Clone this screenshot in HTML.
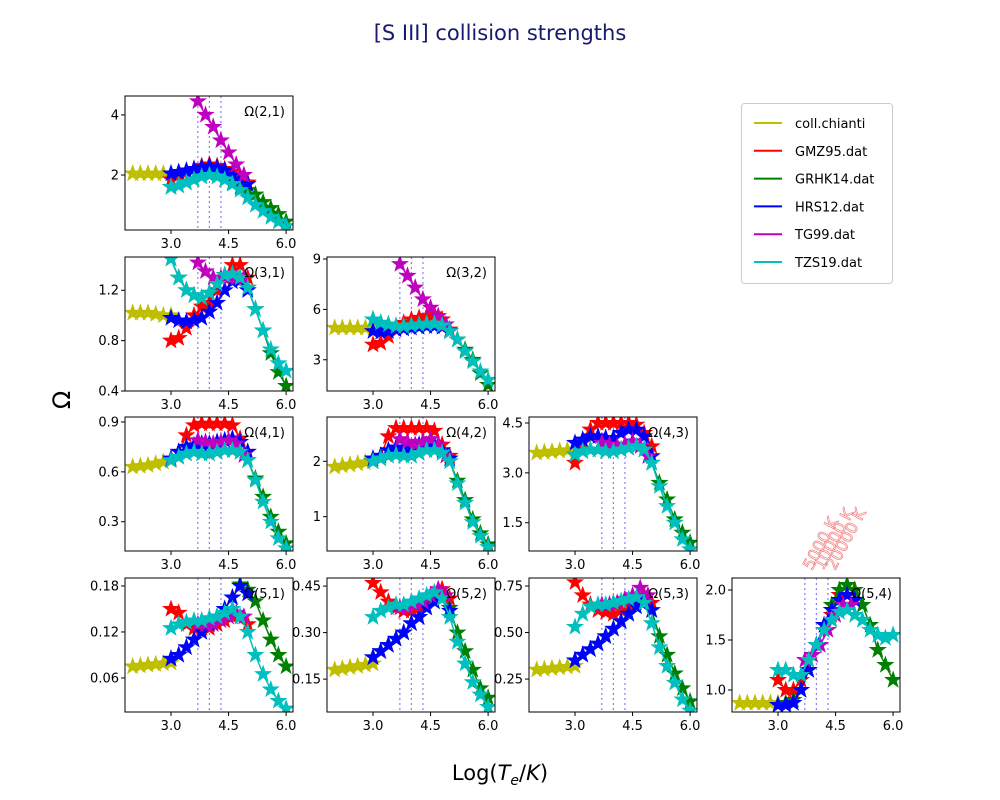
<!DOCTYPE html>
<html><head><meta charset="utf-8"><style>
body{margin:0;background:#fff;}
svg{display:block;font-family:"DejaVu Sans","Liberation Sans",sans-serif;}
</style></head><body>
<svg id="chart" width="1000" height="800" viewBox="0 0 1000 800" xmlns="http://www.w3.org/2000/svg">
<rect x="0" y="0" width="1000" height="800" fill="#fff"/>
<text x="500" y="40" text-anchor="middle" font-size="21" fill="#191970">[S III] collision strengths</text>
<text x="70" y="400" text-anchor="middle" font-size="24" transform="rotate(-90 70 400)">Ω</text>
<text x="500" y="780" text-anchor="middle" font-size="21">Log(<tspan font-style="italic">T</tspan><tspan font-style="italic" font-size="14" dy="5">e</tspan><tspan dy="-5">/</tspan><tspan font-style="italic">K</tspan>)</text>
<g id="panels"></g>
<g>
<rect x="741.5" y="103.5" width="151" height="180" rx="3" fill="#fff" stroke="#ccc"/>
<g id="legend-items"></g>
</g>
<g fill="none" stroke="#f08080" stroke-width="0.7" font-size="16">
<text transform="translate(812 571) rotate(-62)">5000 K</text>
<text transform="translate(823 571) rotate(-62)">10000 K</text>
<text transform="translate(835 571) rotate(-62)">20000 K</text>
</g>
</svg>
<script>
const xChianti=[2.0,2.2,2.4,2.6,2.8,3.0];
const xMid=[3.0,3.2,3.4,3.6,3.8,4.0,4.2,4.4,4.6,4.8,5.0];
const xLong=[3.0,3.2,3.4,3.6,3.8,4.0,4.2,4.4,4.6,4.8,5.0,5.2,5.4,5.6,5.8,6.0];
const xTG=[3.7,3.9,4.1,4.3,4.5,4.7,4.9];
const seriesNames=["coll.chianti","GMZ95.dat","GRHK14.dat","HRS12.dat","TG99.dat","TZS19.dat"];
const seriesColors=["#bfbf00","#ff0000","#008000","#0000ff","#bf00bf","#00bfbf"];
const tempLines=[3.699,4.0,4.301];

const chi_21=[2.05,2.05,2.05,2.05,2.05,2.05];
const gmz_21=[1.85,2.0,2.1,2.2,2.3,2.35,2.3,2.2,2.1,1.95,1.75];
const grh_21=[1.6,1.65,1.75,1.85,1.95,2.0,1.95,1.85,1.75,1.6,1.5,1.35,1.1,0.9,0.7,0.45];
const hrs_21=[2.05,2.1,2.15,2.2,2.25,2.3,2.25,2.15,2.0,1.85,1.7];
const tg_21=[4.45,4.0,3.6,3.15,2.75,2.35,2.0];
const tzs_21=[1.6,1.65,1.75,1.85,1.95,2.0,1.95,1.85,1.7,1.5,1.25,1.0,0.8,0.6,0.45,0.3];

const chi_31=[1.02,1.02,1.02,1.01,1.0,1.0];
const gmz_31=[0.8,0.82,0.9,1.0,1.07,1.1,1.2,1.3,1.4,1.4,1.3];
const grh_31=[1.45,1.3,1.2,1.16,1.14,1.18,1.25,1.32,1.33,1.3,1.22,1.05,0.88,0.7,0.55,0.44];
const hrs_31=[0.98,0.96,0.95,0.96,0.98,1.03,1.1,1.2,1.27,1.28,1.2];
const tg_31=[1.42,1.35,1.3,1.3,1.3,1.3,1.3];
const tzs_31=[1.45,1.3,1.2,1.16,1.14,1.18,1.25,1.32,1.33,1.3,1.22,1.05,0.88,0.73,0.62,0.56];

const chi_32=[4.9,4.9,4.9,4.9,4.9,4.9];
const gmz_32=[3.9,4.0,4.4,4.9,5.2,5.4,5.5,5.6,5.7,5.4,4.8];
const grh_32=[5.4,5.2,5.1,5.0,5.0,5.05,5.1,5.15,5.15,5.05,4.7,4.2,3.6,3.0,2.2,1.5];
const hrs_32=[4.7,4.65,4.7,4.8,4.85,4.9,4.95,5.0,5.0,4.95,4.7];
const tg_32=[8.7,8.0,7.3,6.6,6.1,5.6,5.1];
const tzs_32=[5.4,5.2,5.1,5.0,5.0,5.05,5.1,5.15,5.15,5.05,4.7,4.2,3.5,2.9,2.3,1.8];

const chi_41=[0.63,0.635,0.64,0.65,0.66,0.67];
const gmz_41=[0.68,0.72,0.82,0.88,0.89,0.89,0.89,0.89,0.88,0.8,0.72];
const grh_41=[0.67,0.69,0.71,0.72,0.71,0.71,0.72,0.73,0.73,0.72,0.67,0.56,0.45,0.33,0.24,0.17];
const hrs_41=[0.68,0.72,0.75,0.76,0.77,0.77,0.78,0.79,0.8,0.78,0.72];
const tg_41=[0.79,0.78,0.77,0.78,0.79,0.77,0.7];
const tzs_41=[0.67,0.69,0.71,0.72,0.71,0.71,0.72,0.73,0.73,0.72,0.67,0.55,0.42,0.3,0.2,0.14];

const chi_42=[1.9,1.92,1.94,1.96,1.98,2.0];
const gmz_42=[2.0,2.1,2.45,2.6,2.6,2.6,2.6,2.6,2.55,2.3,2.1];
const grh_42=[2.0,2.05,2.1,2.12,2.1,2.1,2.15,2.2,2.2,2.15,2.0,1.65,1.3,0.95,0.7,0.5];
const hrs_42=[2.05,2.1,2.2,2.25,2.25,2.25,2.3,2.3,2.3,2.2,2.05];
const tg_42=[2.4,2.35,2.3,2.35,2.4,2.3,2.1];
const tzs_42=[2.0,2.05,2.1,2.12,2.1,2.1,2.15,2.2,2.2,2.15,2.0,1.6,1.25,0.9,0.65,0.45];

const chi_43=[3.6,3.62,3.64,3.66,3.68,3.7];
const gmz_43=[3.3,3.9,4.3,4.5,4.5,4.5,4.5,4.5,4.45,4.2,3.8];
const grh_43=[3.55,3.65,3.7,3.7,3.65,3.65,3.7,3.75,3.8,3.7,3.3,2.7,2.2,1.6,1.2,0.9];
const hrs_43=[3.9,4.0,4.1,4.1,4.05,4.05,4.2,4.3,4.3,4.1,3.5];
const tg_43=[3.9,3.85,3.8,3.85,3.95,3.8,3.5];
const tzs_43=[3.55,3.65,3.7,3.7,3.65,3.65,3.7,3.75,3.8,3.7,3.3,2.6,2.0,1.5,1.0,0.7];

const chi_51=[0.075,0.076,0.077,0.078,0.079,0.08];
const gmz_51=[0.15,0.145,0.13,0.125,0.125,0.125,0.13,0.135,0.14,0.14,0.13];
const grh_51=[0.085,0.09,0.1,0.11,0.12,0.13,0.14,0.15,0.165,0.182,0.175,0.16,0.135,0.11,0.09,0.075];
const hrs_51=[0.085,0.09,0.1,0.11,0.12,0.13,0.14,0.15,0.165,0.18,0.17];
const tg_51=[0.13,0.13,0.13,0.135,0.14,0.145,0.14];
const tzs_51=[0.125,0.13,0.133,0.135,0.135,0.138,0.14,0.145,0.15,0.14,0.12,0.09,0.065,0.045,0.03,0.02];

const chi_52=[0.18,0.184,0.188,0.192,0.196,0.2];
const gmz_52=[0.46,0.43,0.4,0.38,0.37,0.37,0.38,0.4,0.42,0.44,0.41];
const grh_52=[0.22,0.24,0.26,0.28,0.3,0.33,0.35,0.38,0.4,0.41,0.38,0.3,0.24,0.18,0.12,0.09];
const hrs_52=[0.22,0.24,0.26,0.28,0.3,0.33,0.35,0.38,0.4,0.41,0.37];
const tg_52=[0.38,0.38,0.39,0.4,0.42,0.44,0.42];
const tzs_52=[0.35,0.37,0.38,0.39,0.39,0.4,0.41,0.42,0.43,0.41,0.35,0.27,0.2,0.14,0.1,0.06];

const chi_53=[0.3,0.304,0.308,0.312,0.316,0.32];
const gmz_53=[0.77,0.7,0.65,0.62,0.61,0.6,0.62,0.64,0.66,0.7,0.66];
const grh_53=[0.35,0.38,0.41,0.44,0.48,0.52,0.56,0.6,0.64,0.68,0.62,0.48,0.38,0.28,0.2,0.13];
const hrs_53=[0.35,0.38,0.41,0.44,0.48,0.52,0.56,0.6,0.64,0.68,0.62];
const tg_53=[0.65,0.65,0.66,0.68,0.7,0.74,0.7];
const tzs_53=[0.53,0.6,0.64,0.65,0.65,0.66,0.67,0.68,0.69,0.66,0.55,0.42,0.32,0.23,0.14,0.08];

const chi_54=[0.87,0.87,0.87,0.87,0.87,0.87];
const gmz_54=[1.1,1.0,1.0,1.1,1.3,1.45,1.6,1.75,1.95,2.05,2.0];
const grh_54=[0.85,0.87,0.9,1.0,1.2,1.45,1.65,1.85,2.0,2.05,2.0,1.85,1.65,1.4,1.25,1.1];
const hrs_54=[0.85,0.85,0.87,1.0,1.2,1.45,1.65,1.8,1.9,1.95,1.9];
const tg_54=[1.3,1.35,1.45,1.6,1.75,1.85,1.85];
const tzs_54=[1.2,1.2,1.15,1.15,1.3,1.45,1.6,1.7,1.78,1.8,1.75,1.7,1.6,1.55,1.52,1.55];

const xTicks=[3.0,4.5,6.0];
const xTickLabels=["3.0","4.5","6.0"];
const panelLabels=["Ω(2,1)","Ω(3,1)","Ω(3,2)","Ω(4,1)","Ω(4,2)","Ω(4,3)","Ω(5,1)","Ω(5,2)","Ω(5,3)","Ω(5,4)"];
const yTicks21=[2,4], yTicks31=[0.4,0.8,1.2], yTicks32=[3,6,9], yTicks41=[0.3,0.6,0.9], yTicks42=[1,2], yTicks43=[1.5,3.0,4.5];
const yTicks51=[0.06,0.12,0.18], yTicks52=[0.15,0.30,0.45], yTicks53=[0.25,0.50,0.75], yTicks54=[1.0,1.5,2.0];
const yTickLabels21=["2","4"], yTickLabels31=["0.4","0.8","1.2"], yTickLabels32=["3","6","9"], yTickLabels41=["0.3","0.6","0.9"], yTickLabels42=["1","2"], yTickLabels43=["1.5","3.0","4.5"];
const yTickLabels51=["0.06","0.12","0.18"], yTickLabels52=["0.15","0.30","0.45"], yTickLabels53=["0.25","0.50","0.75"], yTickLabels54=["1.0","1.5","2.0"];

const colX=[125,327,529,732], rowY=[96,257,417,578], PW=168, PH=134;
const panels=[
 {r:0,c:0,y0:0.17,y1:4.63,t:yTicks21,tl:yTickLabels21,d:[chi_21,gmz_21,grh_21,hrs_21,tg_21,tzs_21]},
 {r:1,c:0,y0:0.4,y1:1.464,t:yTicks31,tl:yTickLabels31,d:[chi_31,gmz_31,grh_31,hrs_31,tg_31,tzs_31]},
 {r:1,c:1,y0:1.14,y1:9.12,t:yTicks32,tl:yTickLabels32,d:[chi_32,gmz_32,grh_32,hrs_32,tg_32,tzs_32]},
 {r:2,c:0,y0:0.124,y1:0.93,t:yTicks41,tl:yTickLabels41,d:[chi_41,gmz_41,grh_41,hrs_41,tg_41,tzs_41]},
 {r:2,c:1,y0:0.38,y1:2.8,t:yTicks42,tl:yTickLabels42,d:[chi_42,gmz_42,grh_42,hrs_42,tg_42,tzs_42]},
 {r:2,c:2,y0:0.65,y1:4.68,t:yTicks43,tl:yTickLabels43,d:[chi_43,gmz_43,grh_43,hrs_43,tg_43,tzs_43]},
 {r:3,c:0,y0:0.0156,y1:0.1904,t:yTicks51,tl:yTickLabels51,d:[chi_51,gmz_51,grh_51,hrs_51,tg_51,tzs_51]},
 {r:3,c:1,y0:0.044,y1:0.476,t:yTicks52,tl:yTickLabels52,d:[chi_52,gmz_52,grh_52,hrs_52,tg_52,tzs_52]},
 {r:3,c:2,y0:0.073,y1:0.793,t:yTicks53,tl:yTickLabels53,d:[chi_53,gmz_53,grh_53,hrs_53,tg_53,tzs_53]},
 {r:3,c:3,y0:0.78,y1:2.12,t:yTicks54,tl:yTickLabels54,d:[chi_54,gmz_54,grh_54,hrs_54,tg_54,tzs_54]}
];
const xGrids=[xChianti,xMid,xLong,xMid,xTG,xLong];
const XMIN=1.8, XMAX=6.18;
const NS="http://www.w3.org/2000/svg";
function mk(tag,attrs,parent){const e=document.createElementNS(NS,tag);for(const k in attrs)e.setAttribute(k,attrs[k]);if(parent)parent.appendChild(e);return e;}
function starPath(cx,cy,R){const r=R*0.4;let s="";for(let i=0;i<10;i++){const a=-Math.PI/2+i*Math.PI/5;const rr=i%2?r:R;s+=(i?"L":"M")+(cx+rr*Math.cos(a)).toFixed(1)+" "+(cy+rr*Math.sin(a)).toFixed(1);}return s+"Z";}
const root=document.getElementById("panels");
panels.forEach((p,pi)=>{
 const L=colX[p.c], T=rowY[p.r];
 const sx=v=>L+(v-XMIN)/(XMAX-XMIN)*PW;
 const sy=v=>T+PH-(v-p.y0)/(p.y1-p.y0)*PH;
 const g=mk("g",{},root);
 
 
 const cid="clip"+pi;
 const cp=mk("clipPath",{id:cid},g);mk("rect",{x:L,y:T,width:PW,height:PH},cp);
 const plot=mk("g",{"clip-path":"url(#"+cid+")"},g);
 tempLines.forEach(t=>{const ln=mk("line",{x1:sx(t),x2:sx(t),y1:T,y2:T+PH,stroke:"#8080ff","stroke-width":1.2,"stroke-dasharray":"2,3"},plot);
  
  });
 p.d.forEach((vals,si)=>{
  const xs=xGrids[si];const col=seriesColors[si];
  const sg=mk("g",{},plot);
  
  
  let d="";vals.forEach((v,i)=>{d+=(i?"L":"M")+sx(xs[i]).toFixed(1)+" "+sy(v).toFixed(1);});
  mk("path",{d:d,fill:"none",stroke:col,"stroke-width":1.5},sg);
  vals.forEach((v,i)=>{const m=mk("path",{d:starPath(sx(xs[i]),sy(v),8),fill:col,stroke:col,"stroke-width":1},sg);
   
   });
 });
 mk("rect",{x:L,y:T,width:PW,height:PH,fill:"none",stroke:"#000","stroke-width":1},g);
 xTicks.forEach((t,i)=>{mk("line",{x1:sx(t),x2:sx(t),y1:T+PH,y2:T+PH+4,stroke:"#000"},g);
  const tx=mk("text",{x:sx(t),y:T+PH+18,"text-anchor":"middle","font-size":13},g);tx.textContent=xTickLabels[i];
  
  });
 p.t.forEach((t,i)=>{mk("line",{x1:L-4,x2:L,y1:sy(t),y2:sy(t),stroke:"#000"},g);
  const ty=mk("text",{x:L-6,y:sy(t)+4.5,"text-anchor":"end","font-size":13},g);ty.textContent=p.tl[i];
  
  });
 const lb=mk("text",{x:L+PW-8,y:T+20,"text-anchor":"end","font-size":13},g);lb.textContent=panelLabels[pi];
 
 
});
const lg=document.getElementById("legend-items");
seriesNames.forEach((n,i)=>{const y=123+i*27.8;
 const it=mk("g",{},lg);
 
 
 mk("line",{x1:754,x2:782,y1:y,y2:y,stroke:seriesColors[i],"stroke-width":2},it);
 const t=mk("text",{x:795,y:y+5,"font-size":13},it);t.textContent=n;});
</script>
</body></html>
